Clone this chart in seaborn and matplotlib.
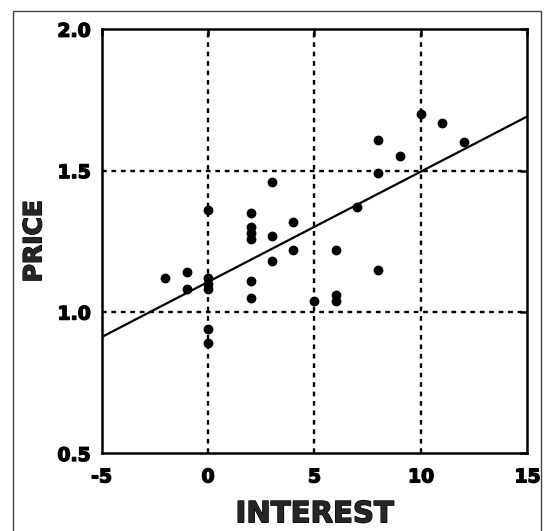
import matplotlib
matplotlib.use("Agg")
import matplotlib.pyplot as plt
import matplotlib.patheffects as pe
from matplotlib.patches import Rectangle
import seaborn as sns
import pandas as pd

# values
interest = [-2, -1, -1,
            0, 0, 0, 0, 0, 0,
            2, 2, 2, 2, 2, 2,
            3, 3, 3,
            4, 4,
            5,
            6, 6, 6,
            7,
            8, 8, 8,
            9, 10, 11, 12]
price = [1.12, 1.14, 1.08,
         1.36, 1.12, 1.10, 1.08, 0.94, 0.89,
         1.35, 1.30, 1.28, 1.26, 1.11, 1.05,
         1.46, 1.27, 1.18,
         1.32, 1.22,
         1.04,
         1.22, 1.06, 1.04,
         1.37,
         1.61, 1.49, 1.15,
         1.55, 1.70, 1.67, 1.60]

x_ticks = [-5, 0, 5, 10, 15]
y_ticks = [0.5, 1.0, 1.5, 2.0]

df = pd.DataFrame({"INTEREST": interest, "PRICE": price})

sns.set_style("white")
plt.rcParams['font.family'] = ['DejaVu Sans']
plt.rcParams['font.weight'] = 'bold'

heavy = [pe.withStroke(linewidth=1.0, foreground="black")]

fig = plt.figure(figsize=(5.46, 5.31), dpi=100)
ax = fig.add_axes([0.186, 0.146, 0.780, 0.799])

ax.set_xlim(-5, 15)
ax.set_ylim(0.5, 2.0)

sns.regplot(
    data=df,
    x="INTEREST",
    y="PRICE",
    ci=None,
    truncate=False,
    color="black",
    scatter_kws={"s": 50, "linewidths": 0, "alpha": 1},
    line_kws={"linewidth": 1.6},
    ax=ax
)

ax.set_xlim(-5, 15)
ax.set_ylim(0.5, 2.0)
ax.set_xticks(x_ticks)
ax.set_yticks(y_ticks)
ax.set_xticklabels([str(t) for t in x_ticks])
ax.set_yticklabels([f"{t:.1f}" for t in y_ticks])

# dotted interior grid
for t in x_ticks[1:-1]:
    ax.axvline(t, color="black", linestyle=(0, (2, 2)), linewidth=1.7, zorder=0)
for t in y_ticks[1:-1]:
    ax.axhline(t, color="black", linestyle=(0, (2, 2)), linewidth=1.7, zorder=0)

for s in ax.spines.values():
    s.set_visible(True)
    s.set_color("black")
    s.set_linewidth(1.8)

ax.tick_params(direction="in", length=5, width=1.8, top=True, right=True,
               labelsize=13.5, colors="black")
ax.tick_params(axis="x", pad=10)
ax.tick_params(axis="y", pad=8)
for lab in ax.get_xticklabels() + ax.get_yticklabels():
    lab.set_path_effects(heavy)

ax.set_xlabel("INTEREST", fontsize=21, fontweight="bold", labelpad=10,
              path_effects=heavy)
ax.set_ylabel("PRICE", fontsize=18, fontweight="bold", labelpad=8,
              path_effects=heavy)

fig.patches.append(Rectangle((0.024, -0.02), 0.967, 0.999, transform=fig.transFigure,
                             fill=False, edgecolor="#444444", linewidth=1))

fig.savefig("out.png", dpi=100)
